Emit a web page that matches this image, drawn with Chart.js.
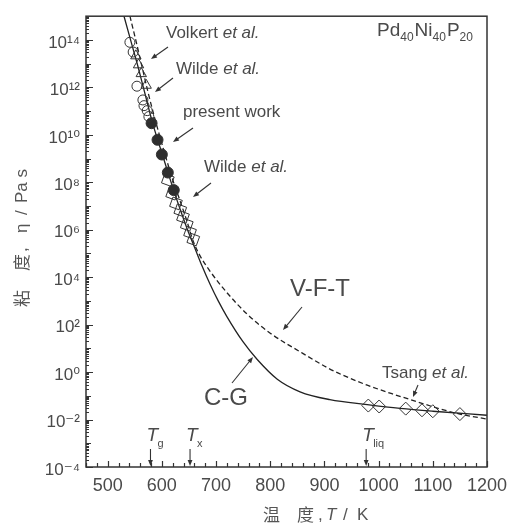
<!DOCTYPE html>
<html>
<head>
<meta charset="utf-8">
<script src="https://cdn.jsdelivr.net/npm/chart.js@4.4.1/dist/chart.umd.min.js"></script>
<style>
  html, body { margin: 0; padding: 0; background: #fff; }
  canvas { display: block; }
</style>
</head>
<body>
<canvas id="chart" width="519" height="529"></canvas>
<script>
// temperature T in K, viscosity given as log10(eta / Pa s)
const cgT   = [530, 543, 556, 569, 582, 593, 602, 611, 622, 635, 648, 661, 674, 689, 704, 720, 750, 776, 813, 855, 910, 979, 1040, 1100, 1200];
const cgLog = [15.01, 13.94, 12.87, 11.72, 10.57, 9.74, 9.09, 8.43, 7.65, 6.78, 5.96, 5.22, 4.48, 3.70, 3.00, 2.34, 1.27, 0.53, -0.30, -0.83, -1.16, -1.37, -1.53, -1.65, -1.82];

const vftT   = [541, 552, 563, 574, 586, 597, 608, 619, 632, 645, 658, 670, 689, 720, 757, 800, 860, 905, 934, 979, 1027, 1071, 1113, 1150, 1200];
const vftLog = [15.01, 13.98, 12.91, 11.84, 10.77, 9.87, 9.00, 8.18, 7.32, 6.45, 5.51, 4.92, 4.25, 3.35, 2.45, 1.64, 0.79, 0.19, -0.13, -0.55, -0.93, -1.25, -1.55, -1.77, -1.98];

const volkertT   = [541, 547, 554, 565, 567, 573, 576];
const volkertLog = [13.90, 13.49, 12.05, 11.47, 11.23, 11.02, 10.77];

const wildeTriT   = [552, 557, 562, 571];
const wildeTriLog = [13.33, 12.95, 12.58, 12.09];

const presentT   = [581, 592, 600, 611, 622];
const presentLog = [10.49, 9.79, 9.17, 8.41, 7.67];

const wildeSqT   = [611, 619, 626, 634, 639, 646, 652, 658];
const wildeSqLog = [8.10, 7.52, 7.11, 6.82, 6.53, 6.21, 5.88, 5.59];

const tsangT   = [981, 1001, 1050, 1080, 1100, 1150];
const tsangLog = [-1.41, -1.45, -1.54, -1.61, -1.65, -1.77];

const xTicks = [500, 600, 700, 800, 900, 1000, 1100, 1200];
const yTickExp = [-4, -2, 0, 2, 4, 6, 8, 10, 12, 14];

const markTemps = [['g', 579], ['x', 652], ['liq', 977]];

const FONT = "'Liberation Sans', Arial, 'DejaVu Sans', sans-serif";
const CJK = "'Noto Sans CJK SC', sans-serif";
const INK = '#333';
const TXT = '#4a4a4a';

const pts = (ts, logs) => ts.map((t, i) => ({ x: t, y: Math.pow(10, logs[i]) }));

const SUP = { '-': '\u207b', '0': '\u2070', '1': '\u00b9', '2': '\u00b2', '3': '\u00b3',
  '4': '\u2074', '5': '\u2075', '6': '\u2076', '7': '\u2077', '8': '\u2078', '9': '\u2079' };
const sup = n => String(n).split('').map(c => SUP[c]).join('');

function drawParts(ctx, x, y, parts, size) {
  let cx = x;
  parts.forEach(([s, it]) => {
    ctx.font = (it ? 'italic ' : '') + size + 'px ' + FONT;
    ctx.fillText(s, cx, y);
    cx += ctx.measureText(s).width;
  });
  return cx;
}

function arrow(ctx, x1, y1, x2, y2) {
  const a = Math.atan2(y2 - y1, x2 - x1);
  const hl = 6, hw = 2.4;
  const c = Math.cos(a), s = Math.sin(a);
  ctx.beginPath();
  ctx.moveTo(x1, y1);
  ctx.lineTo(x2 - c * hl * 0.8, y2 - s * hl * 0.8);
  ctx.stroke();
  ctx.beginPath();
  ctx.moveTo(x2, y2);
  ctx.lineTo(x2 - hl * c + hw * s, y2 - hl * s - hw * c);
  ctx.lineTo(x2 - hl * c - hw * s, y2 - hl * s + hw * c);
  ctx.closePath();
  ctx.fill();
}

const notes = [
  { x: 166, y: 33, parts: [['Volkert ', 0], ['et al.', 1]], a: [168, 47, 151, 59] },
  { x: 176, y: 69, parts: [['Wilde ', 0], ['et al.', 1]], a: [173, 78, 155, 92] },
  { x: 183, y: 112, parts: [['present work', 0]], a: [193, 128, 173, 142] },
  { x: 204, y: 167, parts: [['Wilde ', 0], ['et al.', 1]], a: [211, 183, 193, 197] },
  { x: 382, y: 373, parts: [['Tsang ', 0], ['et al.', 1]], a: [418, 385, 413, 397] }
];

const decor = {
  id: 'decor',
  afterDraw(chart) {
    const { ctx, chartArea: ca, scales: { x, y } } = chart;
    ctx.save();
    ctx.strokeStyle = INK;
    ctx.fillStyle = INK;

    // frame
    ctx.lineWidth = 1.5;
    ctx.strokeRect(ca.left, ca.top, ca.right - ca.left, ca.bottom - ca.top);

    // inward ticks
    ctx.lineWidth = 1.2;
    ctx.beginPath();
    for (let t = 460; t <= 1200; t += 20) {
      const px = Math.round(x.getPixelForValue(t)) + 0.5;
      const len = t % 100 === 0 ? 6 : 4;
      ctx.moveTo(px, ca.bottom);
      ctx.lineTo(px, ca.bottom - len);
    }
    for (let e = -4; e < 15; e++) {
      for (let m = 1; m <= 9; m++) {
        const py = Math.round(y.getPixelForValue(m * Math.pow(10, e))) + 0.5;
        const len = m === 1 ? (e % 2 === 0 ? 7 : 5) : 3;
        ctx.moveTo(ca.left, py);
        ctx.lineTo(ca.left + len, py);
      }
    }
    ctx.stroke();

    // annotations
    ctx.lineWidth = 1.1;
    ctx.textBaseline = 'middle';
    ctx.textAlign = 'left';
    notes.forEach(n => {
      ctx.fillStyle = TXT;
      drawParts(ctx, n.x, n.y, n.parts, 17);
      ctx.fillStyle = INK;
      arrow(ctx, ...n.a);
    });

    ctx.fillStyle = TXT;
    ctx.textAlign = 'center';
    ctx.font = '24px ' + FONT;
    ctx.fillText('V-F-T', 320, 289);
    ctx.fillText('C-G', 226, 398);
    ctx.fillStyle = INK;
    arrow(ctx, 302, 307, 283, 330);
    arrow(ctx, 232, 383, 253, 357);

    // alloy
    ctx.textAlign = 'left';
    ctx.textBaseline = 'alphabetic';
    ctx.fillStyle = TXT;
    let cx = 377;
    [['Pd', 0], ['40', 1], ['Ni', 0], ['40', 1], ['P', 0], ['20', 1]].forEach(([s, sub]) => {
      ctx.font = (sub ? 12 : 19) + 'px ' + FONT;
      ctx.fillText(s, cx, sub ? 41 : 36);
      cx += ctx.measureText(s).width + (sub ? 1 : 0);
    });

    // characteristic temperatures
    markTemps.forEach(([s, t]) => {
      const px = x.getPixelForValue(t);
      ctx.fillStyle = TXT;
      ctx.font = 'italic 19px ' + FONT;
      ctx.fillText('T', px - 4, 441);
      ctx.font = '11px ' + FONT;
      ctx.fillText(s, px + 7, 447);
      ctx.fillStyle = INK;
      arrow(ctx, px, 449, px, ca.bottom - 1);
    });

    // axis titles
    ctx.fillStyle = '#555';
    ctx.textBaseline = 'middle';
    ctx.font = '17px ' + CJK;
    ctx.fillText('\u6e29', 263, 515);
    ctx.fillText('\u5ea6', 297, 515);
    ctx.font = '17px ' + FONT;
    ctx.fillText(',', 318, 515);
    ctx.font = 'italic 17px ' + FONT;
    ctx.fillText('T', 326, 515);
    ctx.font = '17px ' + FONT;
    ctx.fillText('/', 343, 515);
    ctx.fillText('K', 357, 515);

    ctx.translate(22, 307);
    ctx.rotate(-Math.PI / 2);
    ctx.font = '17px ' + CJK;
    ctx.fillText('\u7c98', 0, 0);
    ctx.fillText('\u5ea6', 36, 0);
    ctx.font = '17px ' + FONT;
    ctx.fillText(',', 55, 0);
    ctx.fillText('\u03b7', 74, 0);
    ctx.fillText('/', 92, 0);
    ctx.fillText('Pa s', 104, 0);
    ctx.restore();
  }
};

const openMarker = { borderColor: INK, backgroundColor: 'rgba(0,0,0,0)', borderWidth: 1 };

new Chart(document.getElementById('chart'), {
  type: 'scatter',
  data: {
    datasets: [
      { label: 'Volkert et al.', data: pts(volkertT, volkertLog), pointStyle: 'circle', pointRadius: 5, ...openMarker },
      { label: 'Wilde et al. (a)', data: pts(wildeTriT, wildeTriLog), pointStyle: 'triangle', pointRadius: 6, ...openMarker },
      { label: 'present work', data: pts(presentT, presentLog), pointStyle: 'circle', pointRadius: 5.5,
        borderColor: INK, backgroundColor: '#2e2e2e', borderWidth: 1 },
      { label: 'Wilde et al. (b)', data: pts(wildeSqT, wildeSqLog), pointStyle: 'rect', pointRadius: 7, rotation: 20, ...openMarker },
      { label: 'Tsang et al.', data: pts(tsangT, tsangLog), pointStyle: 'rectRot', pointRadius: 6.5, ...openMarker },
      { label: 'C-G', data: pts(cgT, cgLog), showLine: true, pointRadius: 0, borderColor: '#222',
        borderWidth: 1.3, cubicInterpolationMode: 'monotone' },
      { label: 'V-F-T', data: pts(vftT, vftLog), showLine: true, pointRadius: 0, borderColor: '#222',
        borderWidth: 1.3, borderDash: [5, 3], cubicInterpolationMode: 'monotone' }
    ]
  },
  options: {
    responsive: false,
    animation: false,
    devicePixelRatio: 1,
    events: [],
    layout: { padding: { top: 6, right: 32, left: 0, bottom: 0 } },
    plugins: { legend: { display: false }, tooltip: { enabled: false } },
    scales: {
      x: {
        type: 'linear', min: 460, max: 1200,
        afterBuildTicks: s => { s.ticks = xTicks.map(v => ({ value: v })); },
        afterFit: s => { s.height = 62; },
        grid: { display: false, drawTicks: false },
        border: { display: false },
        ticks: { color: TXT, font: { size: 18, family: FONT }, padding: 8, maxRotation: 0, autoSkip: false,
          callback: v => String(v) }
      },
      y: {
        type: 'logarithmic', min: 1e-4, max: 1e15,
        afterBuildTicks: s => { s.ticks = yTickExp.map(e => ({ value: Math.pow(10, e) })); },
        afterFit: s => { s.width = 86; },
        grid: { display: false, drawTicks: false },
        border: { display: false },
        ticks: {
          color: TXT, font: { size: 17, family: FONT }, padding: 6, labelOffset: 3, autoSkip: false,
          callback: v => '10' + sup(Math.round(Math.log10(v)))
        }
      }
    }
  },
  plugins: [decor]
});
</script>
</body>
</html>
